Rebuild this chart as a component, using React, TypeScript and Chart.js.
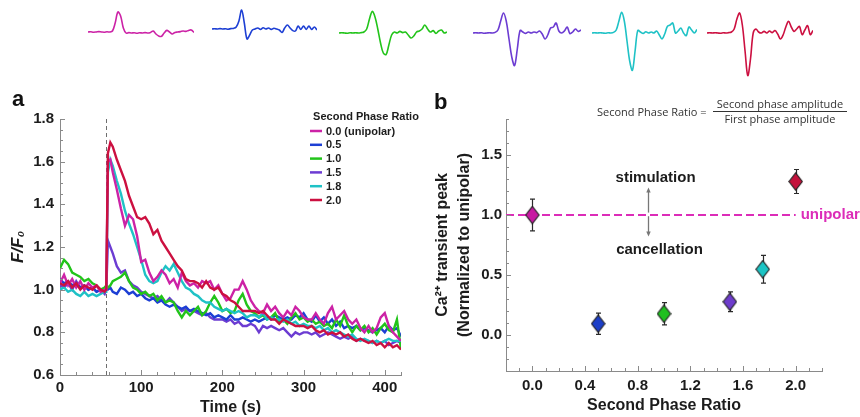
import React, { useEffect, useRef } from 'react';
import { Chart, registerables } from 'chart.js';

Chart.register(...registerables);

const FONT = "'Liberation Sans', Arial, Helvetica, sans-serif";
Chart.defaults.font.family = FONT;

// ---------- Top row: stimulus waveforms (arbitrary units, first phase = 1) ----------
const WAVE_UNIPOLAR = [0,0.01,-0.01,0,0.02,0,-0.01,0.01,0,0.05,0.45,1.0,0.8,0.2,-0.05,-0.03,-0.05,-0.04,-0.06,-0.04,-0.05,-0.03,-0.05,-0.02,0.05,-0.1,-0.2,-0.22,-0.05,0.08,0.0,-0.1,-0.02,0.0,0.02,0.05,0.03,0.08,0.1,-0.02];
const WAVE_05 = [0,0.01,0,0.02,0,0.01,-0.01,0.02,0.03,0.1,0.4,0.95,0.3,-0.5,-0.3,-0.05,0.0,0.05,-0.02,0.06,0.0,0.05,-0.02,0.04,0.0,-0.05,-0.17,0.05,0.2,0.05,-0.08,-0.1,0.15,-0.02,0.15,-0.02,0.15,-0.02,0.1,-0.05];
const WAVE_10 = [0,0.01,0,-0.01,0.01,0,0.01,0,0.02,0.05,0.2,0.7,1.08,0.8,0.2,-0.5,-1.0,-1.08,-0.6,-0.1,0.05,0.0,0.08,0.02,0.05,-0.1,-0.25,-0.15,0.05,0.1,0.2,0.4,0.2,0.05,0.12,-0.02,0.1,0.15,0.0,0.05];
const WAVE_15 = [0,0.01,0,0.01,-0.01,0,0.01,0,0.03,0.15,0.6,1.0,0.6,-0.3,-1.2,-1.63,-0.8,0.13,0.05,-0.02,0.05,0.0,0.05,0.02,0.1,-0.05,-0.3,-0.1,0.25,0.3,0.5,0.1,0.0,0.1,0.3,-0.03,0.05,0.2,0.08,0.15];
const WAVE_18 = [0,0.01,0,0.01,0,-0.01,0.01,0,0.03,0.15,0.6,1.03,0.6,-0.4,-1.4,-1.87,-0.9,0.13,0.05,-0.02,0.06,0.0,0.05,0.0,0.1,-0.1,-0.3,-0.05,0.33,0.4,0.5,0.0,0.1,0.25,0.0,-0.13,0.3,0.15,0.0,0.17];
const WAVE_20 = [0,0.01,0,0.01,0,-0.01,0.01,0,0.02,0.05,0.2,0.7,1.0,0.4,-0.9,-2.13,-1.3,0.0,0.2,0.05,0.0,0.08,0.0,0.1,0.02,0.12,-0.05,-0.3,-0.1,0.3,0.58,0.3,0.08,0.2,0.33,-0.08,0.15,0.37,-0.08,0.13];

// ---------- Panel a: F/F0 traces ----------
const TIME_S = [0,5,10,15,20,25,30,35,40,45,50,55,57,59,62,65,70,75,80,85,90,95,100,105,110,115,120,125,130,135,140,145,150,155,160,165,170,175,180,185,190,195,200,205,210,215,220,225,230,235,240,245,250,255,260,265,270,275,280,285,290,295,300,305,310,315,320,325,330,335,340,345,350,355,360,365,370,375,380,385,390,395,400,405,410,415,420];

const F_UNIPOLAR = [1.03,1.07,1.02,1.05,1.01,1.04,1.0,1.03,1.01,1.02,0.99,1.0,1.0,
  1.6,1.61,1.55,
  1.47,1.38,1.3,1.35,1.33,1.25,1.13,1.14,1.08,1.04,1.06,1.09,1.07,1.03,1.05,1.01,1.08,1.04,1.02,1.03,1.01,1.04,1.03,1.04,1.0,1.02,0.98,0.95,0.96,1.0,1.0,1.04,1.0,0.95,0.92,0.9,0.89,0.93,0.9,0.92,0.89,0.87,0.9,0.88,0.92,0.9,0.87,0.86,0.86,0.89,0.86,0.84,0.89,0.92,0.86,0.88,0.9,0.86,0.84,0.86,0.82,0.8,0.83,0.8,0.82,0.87,0.89,0.83,0.8,0.78,0.76];
const F_05 = [1.05,1.03,1.04,1.02,1.03,1.01,1.02,1.0,1.01,0.99,1.0,0.99,1.0,
  1.0,1.01,0.99,
  0.98,1.01,1.0,0.98,0.99,0.97,0.98,0.96,0.95,0.96,0.94,0.95,0.93,0.92,0.93,0.92,0.91,0.92,0.9,0.91,0.9,0.89,0.88,0.89,0.87,0.88,0.87,0.86,0.88,0.86,0.86,0.87,0.86,0.85,0.86,0.85,0.86,0.87,0.86,0.88,0.87,0.86,0.87,0.86,0.88,0.87,0.89,0.86,0.85,0.88,0.85,0.87,0.84,0.86,0.83,0.85,0.82,0.83,0.82,0.83,0.81,0.82,0.81,0.8,0.81,0.82,0.8,0.83,0.81,0.82,0.78];
const F_10 = [1.1,1.14,1.12,1.08,1.07,1.06,1.04,1.05,1.03,1.02,1.0,1.01,1.02,
  1.01,1.02,1.04,
  1.05,1.06,1.08,1.04,1.01,1.0,0.98,0.99,0.97,0.98,0.95,0.97,0.94,0.95,0.94,0.9,0.87,0.9,0.88,0.9,0.92,0.88,0.9,0.94,0.97,0.94,0.9,0.91,0.89,0.9,0.95,0.98,0.93,0.9,0.89,0.87,0.88,0.86,0.87,0.89,0.85,0.86,0.84,0.87,0.89,0.86,0.87,0.85,0.86,0.84,0.85,0.83,0.84,0.82,0.86,0.83,0.88,0.83,0.8,0.83,0.81,0.83,0.8,0.82,0.79,0.82,0.84,0.81,0.8,0.86,0.72];
const F_15 = [1.02,1.01,1.03,1.0,1.04,1.01,1.02,1.0,1.01,0.99,1.0,0.98,1.0,
  1.23,1.2,1.17,
  1.11,1.08,1.09,1.04,1.02,1.01,0.99,0.98,0.97,0.96,0.97,0.95,0.94,0.96,0.94,0.92,0.9,0.91,0.9,0.9,0.89,0.88,0.89,0.87,0.86,0.86,0.86,0.85,0.86,0.84,0.85,0.83,0.83,0.84,0.83,0.8,0.83,0.82,0.83,0.82,0.81,0.82,0.8,0.78,0.8,0.79,0.8,0.8,0.79,0.8,0.78,0.79,0.8,0.79,0.78,0.77,0.78,0.77,0.78,0.76,0.77,0.76,0.76,0.75,0.76,0.75,0.76,0.74,0.75,0.76,0.75];
const F_18 = [1.0,1.01,0.99,1.0,0.98,0.97,0.99,0.97,0.98,0.97,0.98,0.99,0.99,
  1.55,1.61,1.58,
  1.51,1.45,1.37,1.31,1.26,1.2,1.14,1.07,1.04,1.03,1.04,1.08,1.11,1.09,1.12,1.08,1.04,1.01,1.0,0.98,0.97,0.95,0.94,0.94,0.92,0.91,0.9,0.91,0.9,0.89,0.9,0.89,0.87,0.88,0.88,0.87,0.89,0.86,0.87,0.86,0.86,0.85,0.86,0.84,0.85,0.83,0.84,0.83,0.83,0.82,0.83,0.81,0.82,0.8,0.81,0.8,0.79,0.78,0.79,0.77,0.76,0.77,0.76,0.75,0.76,0.75,0.76,0.77,0.76,0.76,0.76];
const F_20 = [1.03,1.02,1.04,1.01,1.03,1.0,1.02,1.01,1.0,1.02,1.0,0.99,1.0,
  1.64,1.69,1.67,
  1.61,1.56,1.51,1.44,1.39,1.34,1.33,1.34,1.31,1.26,1.28,1.23,1.2,1.17,1.14,1.11,1.09,1.05,1.04,1.04,1.03,1.01,1.04,1.01,1.0,1.01,0.98,0.97,0.95,0.94,0.92,0.9,0.9,0.9,0.9,0.89,0.9,0.88,0.86,0.86,0.84,0.86,0.85,0.84,0.83,0.83,0.83,0.82,0.83,0.81,0.8,0.81,0.79,0.8,0.79,0.8,0.78,0.79,0.77,0.76,0.77,0.76,0.75,0.76,0.74,0.75,0.73,0.75,0.73,0.74,0.72];

const SERIES_LABELS = ['0.0 (unipolar)', '0.5', '1.0', '1.5', '1.8', '2.0'];
const SERIES_COLORS = ['#cc22a6', '#1d3fd4', '#22c41a', '#6c3cd2', '#1fc2c6', '#cc1040'];
const SERIES_DRAW_ORDER = [1, 4, 3, 5, 2, 0];
const STIM_TIME = 57;

// ---------- Panel b: peak vs ratio ----------
const RATIO_X = [0.0, 0.5, 1.0, 1.5, 1.75, 2.0];
const PEAK_Y = [1.0, 0.094, 0.177, 0.277, 0.548, 1.279];
const PEAK_ERR = [0.133, 0.088, 0.093, 0.083, 0.115, 0.1];
const PEAK_COLORS = ['#c81aa2', '#1d3fc8', '#1fc01f', '#6e3ccc', '#1cc4c4', '#c4123c'];
const UNIPOLAR_LEVEL = 1.0;
const UNIPOLAR_LINE_END = 2.0;
const ARROW_X = 0.88;
const ARROW_UP = [1.02, 1.23];
const ARROW_DOWN = [0.99, 0.82];
const LABEL_STIM = { text: 'stimulation', x: 0.936, y: 1.309 };
const LABEL_CANCEL = { text: 'cancellation', x: 0.966, y: 0.707 };

const WAVES = [WAVE_UNIPOLAR, WAVE_05, WAVE_10, WAVE_15, WAVE_18, WAVE_20];
const WAVE_BOXES = [
  { left: 88, top: 0, width: 106 },
  { left: 212, top: -3, width: 105 },
  { left: 339, top: 1, width: 108 },
  { left: 473, top: 1, width: 108 },
  { left: 592, top: 1, width: 105 },
  { left: 707, top: 1, width: 106 },
];

function Waveform({ values, color, box }: { values: number[]; color: string; box: { left: number; top: number; width: number } }) {
  const ref = useRef<HTMLCanvasElement>(null);
  useEffect(() => {
    const chart = new Chart(ref.current!, {
      type: 'line',
      data: {
        labels: values.map((_, i) => i),
        datasets: [{ data: values, borderColor: color, borderWidth: 1.6, pointRadius: 0, tension: 0.35, fill: false }],
      },
      options: {
        animation: false,
        responsive: false,
        events: [],
        layout: { padding: 0 },
        plugins: { legend: { display: false }, tooltip: { enabled: false } },
        scales: {
          x: { display: false },
          y: { display: false, min: -2.4, max: 1.6 },
        },
      },
    });
    return () => chart.destroy();
  }, []);
  return (
    <canvas
      ref={ref}
      width={box.width}
      height={80}
      style={{ position: 'absolute', left: box.left, top: box.top, width: box.width, height: 80 }}
    />
  );
}

function makeInnerTicks(color: string, majorLen: number, minorLen: number) {
  return {
    id: 'innerTicks',
    afterDraw(chart: any) {
      const { ctx, chartArea } = chart;
      const xs = chart.scales.x;
      const ys = chart.scales.y;
      ctx.save();
      ctx.strokeStyle = color;
      ctx.lineWidth = 1;
      xs.ticks.forEach((t: any) => {
        const px = Math.round(xs.getPixelForValue(t.value)) + 0.5;
        const len = t.label !== '' ? majorLen : minorLen;
        ctx.beginPath();
        ctx.moveTo(px, chartArea.bottom);
        ctx.lineTo(px, chartArea.bottom - len);
        ctx.stroke();
      });
      ys.ticks.forEach((t: any) => {
        const py = Math.round(ys.getPixelForValue(t.value)) + 0.5;
        const len = t.label !== '' ? majorLen : minorLen;
        ctx.beginPath();
        ctx.moveTo(chartArea.left, py);
        ctx.lineTo(chartArea.left + len, py);
        ctx.stroke();
      });
      ctx.restore();
    },
  };
}

const TICK_FONT = { size: 15, weight: 'bold' as const, family: FONT };
const TEXT_COLOR = '#1c1c1c';
const AXIS_COLOR = '#8a8a8a';
const NO_GRID = { display: false, drawTicks: false, tickLength: 0 };

function PanelA() {
  const ref = useRef<HTMLCanvasElement>(null);
  useEffect(() => {
    const series = [F_UNIPOLAR, F_05, F_10, F_15, F_18, F_20];
    const datasets = series.map((s, i) => ({
      label: SERIES_LABELS[i],
      data: TIME_S.map((t, k) => ({ x: t, y: s[k] })),
      borderColor: SERIES_COLORS[i],
      backgroundColor: SERIES_COLORS[i],
      borderWidth: 2.4,
      pointRadius: 0,
      tension: 0,
      fill: false,
      order: SERIES_DRAW_ORDER[i],
    }));

    const extras = {
      id: 'panelAExtras',
      beforeDatasetsDraw(chart: any) {
        const { ctx, chartArea } = chart;
        const x = Math.round(chart.scales.x.getPixelForValue(STIM_TIME)) + 0.5;
        ctx.save();
        ctx.strokeStyle = '#6e6e6e';
        ctx.lineWidth = 1;
        ctx.setLineDash([4, 3]);
        ctx.beginPath();
        ctx.moveTo(x, chartArea.top);
        ctx.lineTo(x, chartArea.bottom);
        ctx.stroke();
        ctx.restore();
      },
      afterDraw(chart: any) {
        const { ctx } = chart;
        ctx.save();
        ctx.fillStyle = TEXT_COLOR;
        ctx.font = `bold 11px ${FONT}`;
        ctx.textAlign = 'center';
        ctx.textBaseline = 'middle';
        ctx.fillText('Second Phase Ratio', 366, 37);
        ctx.textAlign = 'left';
        chart.data.datasets.forEach((ds: any, i: number) => {
          const y = 51 + i * 13.8;
          ctx.strokeStyle = ds.borderColor;
          ctx.lineWidth = 2.5;
          ctx.beginPath();
          ctx.moveTo(310, y);
          ctx.lineTo(322, y);
          ctx.stroke();
          ctx.fillStyle = TEXT_COLOR;
          ctx.fillText(ds.label, 326, y + 0.5);
        });
        ctx.restore();
      },
    };

    const chart = new Chart(ref.current!, {
      type: 'line',
      data: { datasets },
      options: {
        animation: false,
        responsive: false,
        events: [],
        layout: { padding: { top: 39, right: 29, left: 0, bottom: 0 } },
        plugins: { legend: { display: false }, tooltip: { enabled: false } },
        scales: {
          x: {
            type: 'linear',
            min: 0,
            max: 420,
            grid: NO_GRID,
            border: { display: true, color: AXIS_COLOR, width: 1 },
            ticks: {
              stepSize: 20,
              autoSkip: false,
              maxRotation: 0,
              padding: 4,
              color: TEXT_COLOR,
              font: TICK_FONT,
              callback: (v: any) => (Math.round(Number(v)) % 100 === 0 ? String(Math.round(Number(v))) : ''),
            },
            title: { display: true, text: 'Time (s)', color: TEXT_COLOR, font: { size: 16, weight: 'bold', family: FONT }, padding: { top: 0, bottom: 0 } },
            afterFit: (s: any) => { s.height = 42; },
          },
          y: {
            min: 0.6,
            max: 1.8,
            grid: NO_GRID,
            border: { display: true, color: AXIS_COLOR, width: 1 },
            ticks: {
              stepSize: 0.05,
              autoSkip: false,
              padding: 6,
              color: TEXT_COLOR,
              font: TICK_FONT,
              callback: (v: any) => {
                const n = Math.round(Number(v) * 100);
                return n % 20 === 0 ? (n / 100).toFixed(1) : '';
              },
            },
            title: { display: true, text: 'F/F\u2080', color: TEXT_COLOR, font: { size: 17, weight: 'bold', style: 'italic', family: FONT }, padding: { top: 8, bottom: 0 } },
            afterFit: (s: any) => { s.width = 60; },
          },
        },
      },
      plugins: [extras, makeInnerTicks(AXIS_COLOR, 5, 3)],
    });
    return () => chart.destroy();
  }, []);
  return (
    <canvas ref={ref} width={430} height={337} style={{ position: 'absolute', left: 0, top: 80, width: 430, height: 337 }} />
  );
}

function makeDiamond(color: string) {
  const c = document.createElement('canvas');
  c.width = 15;
  c.height = 19;
  const g = c.getContext('2d')!;
  g.beginPath();
  g.moveTo(7.5, 0.8);
  g.lineTo(14.2, 9.5);
  g.lineTo(7.5, 18.2);
  g.lineTo(0.8, 9.5);
  g.closePath();
  g.fillStyle = color;
  g.fill();
  g.strokeStyle = '#222';
  g.lineWidth = 1.1;
  g.stroke();
  return c;
}

function PanelB() {
  const ref = useRef<HTMLCanvasElement>(null);
  useEffect(() => {
    const diamonds = PEAK_COLORS.map(makeDiamond);

    const extras = {
      id: 'panelBExtras',
      beforeDatasetsDraw(chart: any) {
        const { ctx, chartArea } = chart;
        const xs = chart.scales.x;
        const ys = chart.scales.y;
        ctx.save();
        // unipolar reference line
        const yu = ys.getPixelForValue(UNIPOLAR_LEVEL);
        ctx.strokeStyle = '#dc2cb8';
        ctx.lineWidth = 2;
        ctx.setLineDash([8, 4]);
        ctx.beginPath();
        ctx.moveTo(chartArea.left, yu);
        ctx.lineTo(xs.getPixelForValue(UNIPOLAR_LINE_END), yu);
        ctx.stroke();
        ctx.setLineDash([]);
        ctx.fillStyle = '#dc2cb8';
        ctx.font = `bold 15px ${FONT}`;
        ctx.textAlign = 'left';
        ctx.textBaseline = 'middle';
        ctx.fillText('unipolar', xs.getPixelForValue(UNIPOLAR_LINE_END) + 5, yu);

        // arrows
        const ax = Math.round(xs.getPixelForValue(ARROW_X)) + 0.5;
        const drawArrow = (from: number, to: number) => {
          const y0 = ys.getPixelForValue(from);
          const y1 = ys.getPixelForValue(to);
          const dir = y1 < y0 ? -1 : 1;
          ctx.strokeStyle = '#777';
          ctx.fillStyle = '#777';
          ctx.lineWidth = 1.3;
          ctx.beginPath();
          ctx.moveTo(ax, y0);
          ctx.lineTo(ax, y1 - dir * 3);
          ctx.stroke();
          ctx.beginPath();
          ctx.moveTo(ax, y1);
          ctx.lineTo(ax - 2.2, y1 - dir * 5);
          ctx.lineTo(ax + 2.2, y1 - dir * 5);
          ctx.closePath();
          ctx.fill();
        };
        drawArrow(ARROW_UP[0], ARROW_UP[1]);
        drawArrow(ARROW_DOWN[0], ARROW_DOWN[1]);

        ctx.fillStyle = TEXT_COLOR;
        ctx.font = `bold 15px ${FONT}`;
        ctx.textAlign = 'center';
        [LABEL_STIM, LABEL_CANCEL].forEach((l) => {
          ctx.fillText(l.text, xs.getPixelForValue(l.x), ys.getPixelForValue(l.y));
        });

        // error bars
        ctx.strokeStyle = '#2a2a2a';
        ctx.lineWidth = 1.2;
        RATIO_X.forEach((x, i) => {
          const px = Math.round(xs.getPixelForValue(x)) + 0.5;
          const yt = ys.getPixelForValue(PEAK_Y[i] + PEAK_ERR[i]);
          const yb = ys.getPixelForValue(PEAK_Y[i] - PEAK_ERR[i]);
          ctx.beginPath();
          ctx.moveTo(px, yt);
          ctx.lineTo(px, yb);
          ctx.moveTo(px - 2.5, yt);
          ctx.lineTo(px + 2.5, yt);
          ctx.moveTo(px - 2.5, yb);
          ctx.lineTo(px + 2.5, yb);
          ctx.stroke();
        });
        ctx.restore();
      },
    };

    const chart = new Chart(ref.current!, {
      type: 'scatter',
      data: {
        datasets: [
          {
            data: RATIO_X.map((x, i) => ({ x, y: PEAK_Y[i] })),
            pointStyle: diamonds as any,
            pointRadius: 8,
            showLine: false,
            backgroundColor: PEAK_COLORS,
          },
        ],
      },
      options: {
        animation: false,
        responsive: false,
        events: [],
        layout: { padding: { top: 39, right: 38, left: 0, bottom: 0 } },
        plugins: { legend: { display: false }, tooltip: { enabled: false } },
        scales: {
          x: {
            type: 'linear',
            min: -0.2,
            max: 2.2,
            grid: NO_GRID,
            border: { display: true, color: AXIS_COLOR, width: 1 },
            ticks: {
              stepSize: 0.1,
              autoSkip: false,
              maxRotation: 0,
              padding: 6,
              color: TEXT_COLOR,
              font: TICK_FONT,
              callback: (v: any) => {
                const n = Math.round(Number(v) * 10);
                return n >= 0 && n % 4 === 0 ? (n / 10).toFixed(1) : '';
              },
            },
            title: { display: true, text: 'Second Phase Ratio', color: TEXT_COLOR, font: { size: 16, weight: 'bold', family: FONT }, padding: { top: 0, bottom: 2 } },
            afterFit: (s: any) => { s.height = 46; },
          },
          y: {
            min: -0.3,
            max: 1.8,
            grid: NO_GRID,
            border: { display: true, color: AXIS_COLOR, width: 1 },
            ticks: {
              stepSize: 0.1,
              autoSkip: false,
              padding: 4,
              color: TEXT_COLOR,
              font: TICK_FONT,
              callback: (v: any) => {
                const n = Math.round(Number(v) * 10);
                return n >= 0 && n % 5 === 0 ? (n / 10).toFixed(1) : '';
              },
            },
            title: {
              display: true,
              text: ['Ca\u00B2\u207A transient peak', '(Normalized to unipolar)'],
              color: TEXT_COLOR,
              font: { size: 16, weight: 'bold', family: FONT, lineHeight: 1.375 },
              padding: { top: 2, bottom: 0 },
            },
            afterFit: (s: any) => { s.width = 76; },
          },
        },
      },
      plugins: [extras, makeInnerTicks(AXIS_COLOR, 5, 3)],
    });
    return () => chart.destroy();
  }, []);
  return (
    <canvas ref={ref} width={430} height={337} style={{ position: 'absolute', left: 430, top: 80, width: 430, height: 337 }} />
  );
}

export default function App() {
  const textFont = "'Open Sans', 'Liberation Sans', Arial, sans-serif";
  return (
    <div style={{ position: 'absolute', left: 0, top: 0, width: 860, height: 417, background: '#fff', overflow: 'hidden' }}>
      {WAVES.map((w, i) => (
        <Waveform key={i} values={w} color={SERIES_COLORS[i]} box={WAVE_BOXES[i]} />
      ))}
      <PanelA />
      <PanelB />
      <div style={{ position: 'absolute', left: 12, top: 88, font: `bold 22px ${FONT}`, lineHeight: '22px', color: '#111' }}>a</div>
      <div style={{ position: 'absolute', left: 434, top: 91, font: `bold 22px ${FONT}`, lineHeight: '22px', color: '#111' }}>b</div>
      <div style={{ position: 'absolute', left: 597, top: 105, font: `11px ${textFont}`, lineHeight: '14px', color: '#333', whiteSpace: 'nowrap' }}>
        Second Phase Ratio =
      </div>
      <div style={{ position: 'absolute', left: 713, top: 97, width: 134, font: `11px ${textFont}`, lineHeight: '14px', color: '#333', textAlign: 'center', whiteSpace: 'nowrap' }}>
        <div style={{ borderBottom: '1px solid #333' }}>Second phase amplitude</div>
        <div>First phase amplitude</div>
      </div>
    </div>
  );
}
